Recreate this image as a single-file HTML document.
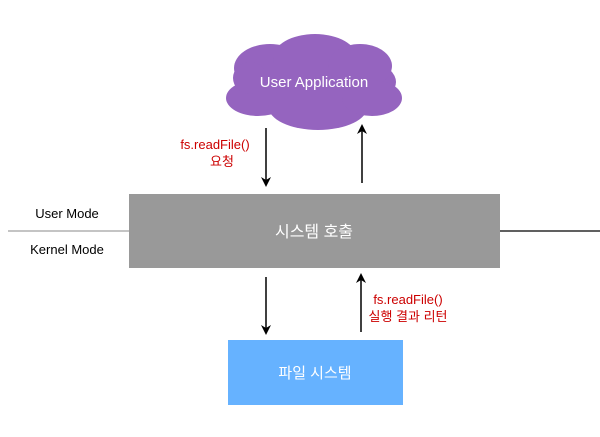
<!DOCTYPE html>
<html><head><meta charset="utf-8"><style>
body{margin:0;background:#fff;}
svg text{font-family:"Liberation Sans","Noto Sans CJK KR",sans-serif;}
</style></head><body>
<svg width="600" height="432" viewBox="0 0 600 432" xmlns="http://www.w3.org/2000/svg">
<defs><marker id="a" markerWidth="10" markerHeight="10" refX="5" refY="5" orient="auto" markerUnits="userSpaceOnUse"><path d="M0,0 L10,5 L0,10 L3,5z" fill="#000"/></marker></defs>
<g fill="#9564bf">
<ellipse cx="316" cy="82" rx="80" ry="32"/>
<ellipse cx="270" cy="68" rx="36" ry="24"/>
<ellipse cx="315" cy="58" rx="42" ry="24"/>
<ellipse cx="360" cy="66" rx="32" ry="22"/>
<ellipse cx="258" cy="98" rx="32" ry="18"/>
<ellipse cx="318" cy="106" rx="50" ry="24"/>
<ellipse cx="372" cy="98" rx="30" ry="18"/>
<ellipse cx="250" cy="78" rx="17" ry="16"/>
</g>
<text x="314" y="87" font-size="15" fill="#fff" text-anchor="middle">User Application</text>
<line x1="8" y1="231" x2="129" y2="231" stroke="#888" stroke-width="1"/>
<line x1="500" y1="231" x2="600" y2="231" stroke="#000" stroke-width="1.2"/>
<rect x="129" y="194" width="371" height="74" fill="#999"/>
<text x="314" y="237" font-size="16" fill="#fff" text-anchor="middle">시스템 호출</text>
<text x="67" y="218" font-size="13" text-anchor="middle">User Mode</text>
<text x="67" y="254" font-size="13" text-anchor="middle">Kernel Mode</text>
<rect x="228" y="340" width="175" height="65" fill="#66b2ff"/>
<text x="315" y="378" font-size="15" fill="#fff" text-anchor="middle">파일 시스템</text>
<g stroke="#000" stroke-width="1.5">
<line x1="266" y1="128" x2="266" y2="182" marker-end="url(#a)"/>
<line x1="362" y1="183" x2="362" y2="129" marker-end="url(#a)"/>
<line x1="266" y1="277" x2="266" y2="330" marker-end="url(#a)"/>
<line x1="361" y1="332" x2="361" y2="278" marker-end="url(#a)"/>
</g>
<g fill="#c00" font-size="13" text-anchor="middle">
<text x="215" y="149">fs.readFile()</text>
<text x="222" y="166">요청</text>
<text x="408" y="304">fs.readFile()</text>
<text x="408" y="321">실행 결과 리턴</text>
</g>
</svg>
</body></html>
